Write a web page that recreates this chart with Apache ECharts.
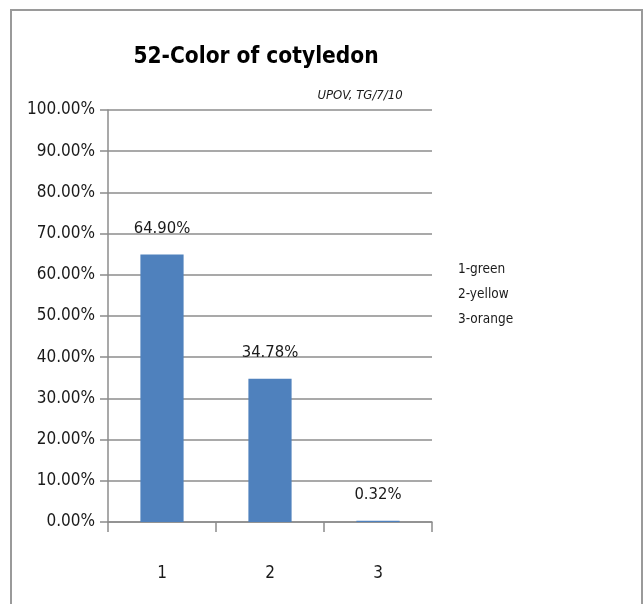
<!DOCTYPE html>
<html>
<head>
<meta charset="utf-8">
<script src="https://cdn.jsdelivr.net/npm/echarts@6/dist/echarts.min.js"></script>
<style>
  html, body { margin: 0; padding: 0; background: #fff; }
  #main { width: 644px; height: 604px; }
</style>
</head>
<body>
<div id="main"></div>
<script>
// categories and values (percent)
var categories = ['1', '2', '3'];
var values = [64.90, 34.78, 0.32];
var legendLines = ['1-green', '2-yellow', '3-orange'];
var titleText = '52-Color of cotyledon';
var subText = 'UPOV, TG/7/10';

var font = '"DejaVu Sans Condensed", "Liberation Sans Narrow", sans-serif';
var textColor = '#1a1a1a';

var chart = echarts.init(document.getElementById('main'));

// legend lines as plain text on the right
var legendGraphics = [];
for (var i = 0; i < legendLines.length; i++) {
  legendGraphics.push({
    type: 'text',
    left: 458,
    top: 262 + i * 25,
    style: { text: legendLines[i], font: '13.5px ' + font, fill: textColor }
  });
}

var option = {
  animation: false,
  title: [{
    text: titleText,
    left: 251, top: 41, textAlign: 'center',
    textStyle: { fontFamily: font, fontWeight: 'bold', fontSize: 22.5, color: '#000' }
  }, {
    text: subText,
    left: 355, top: 84, textAlign: 'center',
    textStyle: { fontFamily: font, fontStyle: 'italic', fontWeight: 'normal', fontSize: 13, color: textColor }
  }],
  graphic: [{
    type: 'rect',
    shape: { x: 11, y: 10, width: 631, height: 620 },
    style: { fill: 'none', stroke: '#9a9a9a', lineWidth: 2 },
    silent: true
  }].concat(legendGraphics),
  grid: { left: 108, right: 212, top: 110, bottom: 82 },
  xAxis: {
    type: 'category',
    data: categories,
    axisLine: { lineStyle: { color: '#8c8c8c', width: 1.5 } },
    axisTick: { show: true, length: 10, lineStyle: { color: '#8c8c8c', width: 1.5 } },
    axisLabel: { margin: 43, fontFamily: font, fontSize: 17, color: textColor }
  },
  yAxis: {
    type: 'value',
    min: 0, max: 100, interval: 10,
    axisLine: { show: true, lineStyle: { color: '#8c8c8c', width: 1.5 } },
    axisTick: { show: true, length: 8, lineStyle: { color: '#8c8c8c', width: 1.5 } },
    splitLine: { lineStyle: { color: '#8c8c8c', width: 1.5 } },
    axisLabel: {
      margin: 13, fontFamily: font, fontSize: 17, color: textColor,
      formatter: function (v) { return v.toFixed(2) + '%'; }
    }
  },
  series: [{
    type: 'bar',
    data: values,
    barWidth: '40%',
    itemStyle: { color: '#4f81bd' },
    label: {
      show: true, position: 'top', distance: 17,
      fontFamily: font, fontSize: 16.5, color: textColor,
      formatter: function (p) { return p.value.toFixed(2) + '%'; }
    }
  }]
};

chart.setOption(option);
</script>
</body>
</html>
